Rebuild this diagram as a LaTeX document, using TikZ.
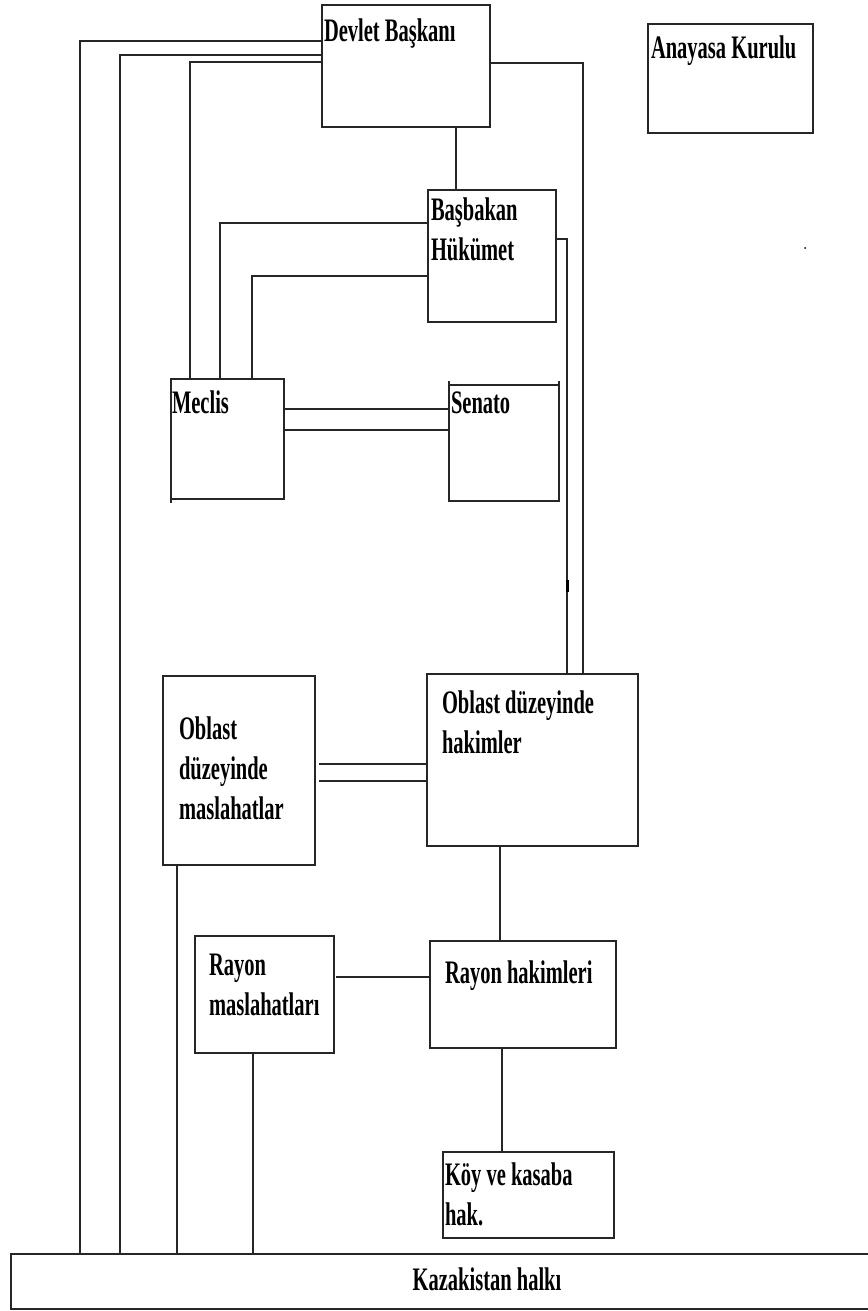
\documentclass[tikz,border=0pt]{standalone}
\usepackage{graphicx}
\usepackage{fontspec}
\setmainfont{Liberation Serif}
\newcommand{\sx}[1]{\scalebox{1}[1.6]{#1}}
\newcommand{\ml}[1]{\sx{\begin{tabular}[t]{@{}l@{}}#1\end{tabular}}}
\tikzset{
  box/.style={draw=black!85, line width=2pt, rectangle, inner sep=0pt, outer sep=0pt, anchor=north west, fill=none},
  lbl/.style={anchor=base west, inner sep=0pt, outer sep=0pt, font=\bfseries\fontsize{20.5}{25}\selectfont},
  conn/.style={draw=black!85, line width=2pt}
}
\begin{document}
\begin{tikzpicture}[x=1pt,y=-1pt]
\useasboundingbox (0,0) rectangle (867,1311);
\fill[white] (0,0) rectangle (867,1311);
% boxes
\node[box, minimum width=168pt, minimum height=122pt] (devlet) at (322,5) {};
\node[box, minimum width=165pt, minimum height=109pt] (anayasa) at (648,24) {};
\node[box, minimum width=128pt, minimum height=132pt] (basbakan) at (428,190) {};
\node[box, minimum width=113pt, minimum height=120pt] (meclis) at (171,379) {};
\node[box, minimum width=110pt, minimum height=116pt] (senato) at (449,385) {};
\node[box, minimum width=152pt, minimum height=189pt] (oblastM) at (163,676) {};
\node[box, minimum width=211pt, minimum height=172pt] (oblastH) at (427,674) {};
\node[box, minimum width=139pt, minimum height=117pt] (rayonM) at (195,936) {};
\node[box, minimum width=186pt, minimum height=107pt] (rayonH) at (430,941) {};
\node[box, minimum width=171pt, minimum height=86pt] (koy) at (443,1152) {};
\node[box, minimum width=864pt, minimum height=55pt] (halk) at (11,1254) {};
% small overhangs of box edges
\draw[conn] (senato.north west) -- ++(0,-4);
\draw[conn] (senato.north east) -- ++(0,-4);
\draw[conn] (meclis.south west) -- ++(0,4);
% labels
\node[lbl] (devletT) at (324,42) {\sx{Devlet Başkanı}};
\node[lbl] (anayasaT) at (651,59) {\sx{Anayasa Kurulu}};
\node[lbl] (basbakanT) at (431,220) {\ml{Başbakan\\Hükümet}};
\node[lbl] (meclisT) at (172,413) {\sx{Meclis}};
\node[lbl] (senatoT) at (451,413) {\sx{Senato}};
\node[lbl] (oblastMT) at (179,739) {\ml{Oblast\\düzeyinde\\maslahatlar}};
\node[lbl] (oblastHT) at (442,713) {\ml{Oblast düzeyinde\\hakimler}};
\node[lbl] (rayonMT) at (209,975) {\ml{Rayon\\maslahatları}};
\node[lbl] (rayonHT) at (445,983) {\sx{Rayon hakimleri}};
\node[lbl] (koyT) at (445,1185) {\ml{Köy ve kasaba\\hak.}};
\node[lbl, anchor=base] (halkT) at (487,1290) {\sx{Kazakistan halkı}};
% connectors
\draw[conn] (devlet.west |- 0,41) -| (halk.north -| 80,0);
\draw[conn] (devlet.west |- 0,55) -| (halk.north -| 120,0);
\draw[conn] (devlet.west |- 0,62) -| (meclis.north -| 190,0);
\draw[conn] (devlet.east |- 0,63) -| (oblastH.north -| 583,0);
\draw[conn] (devlet.south -| 456,0) -- (basbakan.north -| 456,0);
\draw[conn] (basbakan.west |- 0,223) -| (meclis.north -| 220,0);
\draw[conn] (basbakan.west |- 0,276) -| (meclis.north -| 252,0);
\draw[conn] (basbakan.east |- 0,239) -| (oblastH.north -| 567,0);
\draw[conn] (meclis.east |- 0,409) -- (senato.west |- 0,409);
\draw[conn] (meclis.east |- 0,430) -- (senato.west |- 0,430);
\draw[conn] ([xshift=4pt]oblastM.east |- 0,764) -- (oblastH.west |- 0,764);
\draw[conn] ([xshift=4pt]oblastM.east |- 0,781) -- (oblastH.west |- 0,781);
\draw[conn] (oblastH.south -| 500,0) -- (rayonH.north -| 500,0);
\draw[conn] ([xshift=2pt]rayonM.east |- 0,977) -- (rayonH.west |- 0,977);
\draw[conn] (rayonH.south -| 502,0) -- (koy.north -| 502,0);
\draw[conn] (oblastM.south -| 177,0) -- (halk.north -| 177,0);
\draw[conn] (rayonM.south -| 253,0) -- (halk.north -| 253,0);
% small marks
\draw[line width=3pt] (567,580) -- (567,592);
\fill (805,248) circle (1pt);
\end{tikzpicture}
\end{document}
